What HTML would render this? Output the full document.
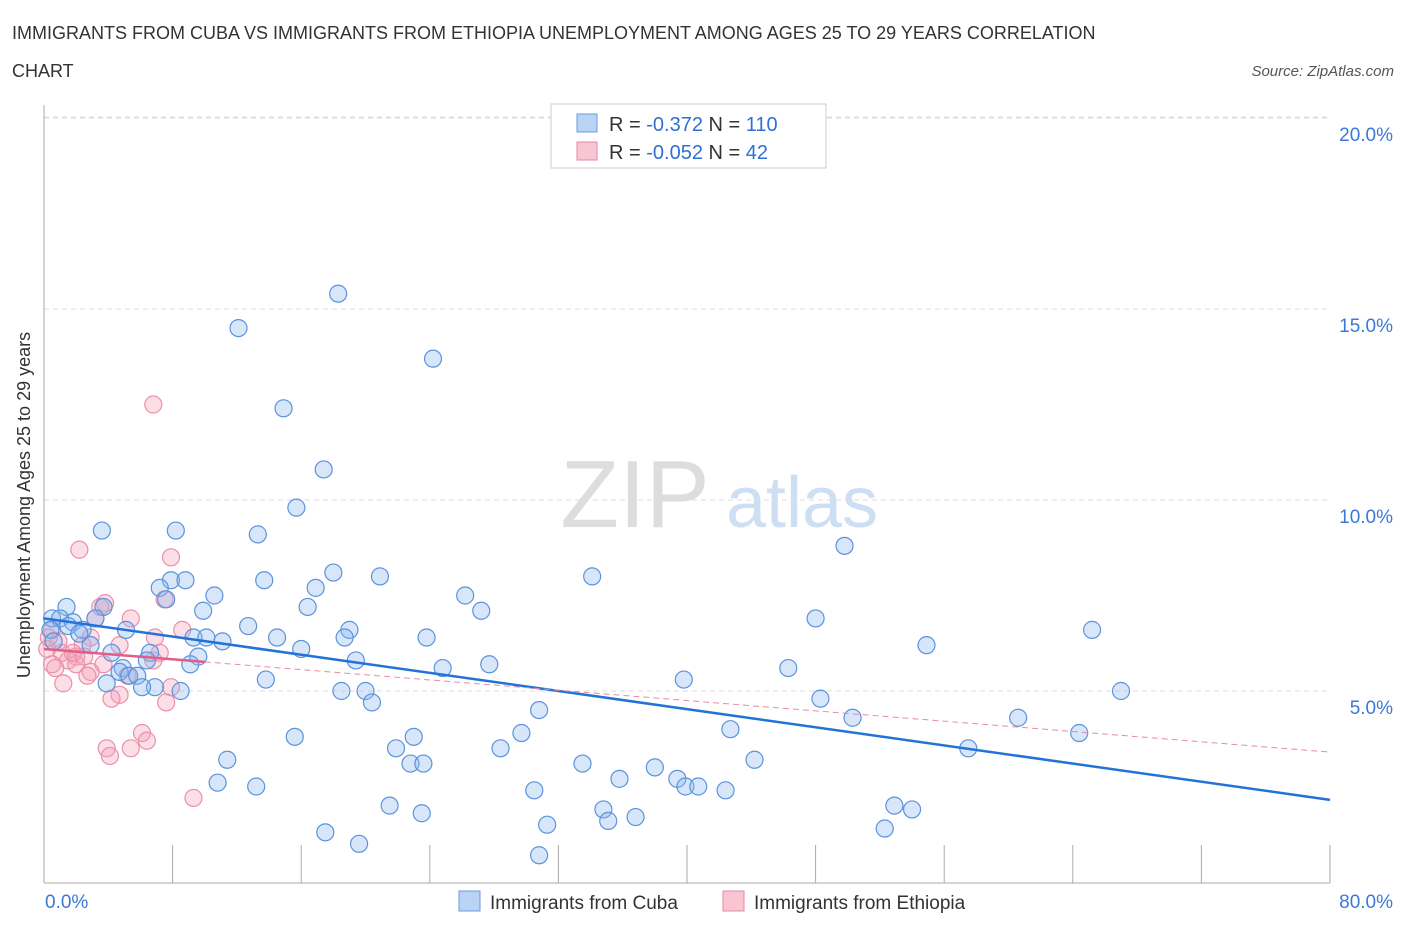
<!DOCTYPE html>
<html><head><meta charset="utf-8"><style>
body{margin:0;background:#fff;font-family:"Liberation Sans",sans-serif}
svg text{font-family:"Liberation Sans",sans-serif}
</style></head><body>
<svg id="chart" width="1406" height="930" xmlns="http://www.w3.org/2000/svg">
<text x="12" y="39" font-size="18" fill="#333">IMMIGRANTS FROM CUBA VS IMMIGRANTS FROM ETHIOPIA UNEMPLOYMENT AMONG AGES 25 TO 29 YEARS CORRELATION</text>
<text x="12" y="77" font-size="18" fill="#333">CHART</text>
<text x="1394" y="76" font-size="15" fill="#555" text-anchor="end" font-style="italic">Source: ZipAtlas.com</text>
<g><text x="635" y="527" font-size="96" fill="#ddd" text-anchor="middle" font-family="Liberation Serif">ZIP</text><text x="802" y="527" font-size="72" fill="#cfdff3" text-anchor="middle">atlas</text></g>
<g id="grid"></g><g id="axes"></g><g id="pts"></g><g id="lines"></g>
<g>
<rect x="551" y="104" width="275" height="64" fill="#fff" stroke="#ccc"/>
<rect x="577" y="114" width="20" height="18" fill="#b9d3f5" stroke="#6b9de0"/>
<text x="609" y="131" font-size="20" fill="#333">R = <tspan fill="#2f6fd6">-0.372</tspan>   N = <tspan fill="#2f6fd6">110</tspan></text>
<rect x="577" y="142" width="20" height="18" fill="#f9c5d3" stroke="#e48aa5"/>
<text x="609" y="159" font-size="20" fill="#333">R = <tspan fill="#2f6fd6">-0.052</tspan>   N = <tspan fill="#2f6fd6"> 42</tspan></text>
</g>
<g>
<rect x="459" y="891" width="21" height="20" fill="#b9d3f5" stroke="#6b9de0"/>
<text x="490" y="909" font-size="19" fill="#333">Immigrants from Cuba</text>
<rect x="723" y="891" width="21" height="20" fill="#f9c5d3" stroke="#e48aa5"/>
<text x="754" y="909" font-size="19" fill="#333">Immigrants from Ethiopia</text>
</g>
<text x="20" y="495" font-size="18" fill="#333" text-anchor="middle" transform="rotate(-90 30 495)">Unemployment Among Ages 25 to 29 years</text>
</svg>
<script>
const cubaX=[18.3,12.1,24.2,14.9,17.4,15.7,3.6,8.2,13.3,49.8,34.1,18.0,13.7,20.9,7.9,8.8,7.2,16.9,10.6,26.2,7.6,16.4,27.2,9.9,1.4,3.7,0.5,1.0,1.8,3.2,48.0,65.2,5.1,12.7,2.4,0.4,19.0,23.8,9.3,10.1,14.5,18.7,11.1,54.9,2.9,16.0,4.2,6.6,6.4,9.6,9.1,19.4,27.7,24.8,4.9,46.3,4.7,5.3,5.8,39.8,13.8,3.9,6.9,6.1,8.5,18.5,20.0,67.0,48.3,20.4,30.8,50.3,60.6,42.7,15.6,23.0,29.7,64.4,28.4,21.9,57.5,11.4,22.8,23.6,33.5,44.2,38.0,35.8,39.4,10.8,13.2,39.9,40.7,42.4,30.5,21.5,34.8,52.9,54.0,23.5,36.8,35.1,31.3,52.3,17.5,19.6,30.8,0.6,1.5,2.2];
const cubaY=[15.4,14.5,13.7,12.4,10.8,9.8,9.2,9.2,9.1,8.8,8.0,8.1,7.9,8.0,7.9,7.9,7.7,7.7,7.5,7.5,7.4,7.2,7.1,7.1,7.2,7.2,6.9,6.9,6.8,6.9,6.9,6.6,6.6,6.7,6.6,6.6,6.6,6.4,6.4,6.4,6.4,6.4,6.3,6.2,6.2,6.1,6.0,6.0,5.8,5.9,5.7,5.8,5.7,5.6,5.6,5.6,5.5,5.4,5.4,5.3,5.3,5.2,5.1,5.1,5.0,5.0,5.0,5.0,4.8,4.7,4.5,4.3,4.3,4.0,3.8,3.8,3.9,3.9,3.5,3.5,3.5,3.2,3.1,3.1,3.1,3.2,3.0,2.7,2.7,2.6,2.5,2.5,2.5,2.4,2.4,2.0,1.9,2.0,1.9,1.8,1.7,1.6,1.5,1.4,1.3,1.0,0.7,6.3,6.7,6.5];
const ethX=[6.8,2.2,7.9,7.5,3.8,3.5,5.4,3.2,8.6,6.9,2.9,0.9,2.4,4.7,0.2,1.1,2.0,7.2,1.5,6.8,3.7,0.5,2.0,0.7,2.9,2.7,1.2,5.2,7.9,4.7,4.2,7.6,6.1,6.4,5.4,3.9,4.1,9.3,0.5,0.3,1.8,2.5];
const ethY=[12.5,8.7,8.5,7.4,7.3,7.2,6.9,6.9,6.6,6.4,6.4,6.3,6.2,6.2,6.1,6.0,5.9,6.0,5.8,5.8,5.7,5.7,5.7,5.6,5.5,5.4,5.2,5.4,5.1,4.9,4.8,4.7,3.9,3.7,3.5,3.5,3.3,2.2,6.6,6.4,6.0,5.9];
const yTicks=[5,10,15,20];
const yTickLabels=["5.0%","10.0%","15.0%","20.0%"];
const xTicks=[0,8,16,24,32,40,48,56,64,72,80];
const xEndLabels=["0.0%","80.0%"];
const cubaTrend=[6.9,2.15];
const ethTrend=[6.1,3.4];
const ethSolidEnd=10;
const NS="http://www.w3.org/2000/svg";
const X=v=>44+v*(1330-44)/80, Y=v=>882-v*(882-118)/20;
function mk(tag,attrs,parent){const e=document.createElementNS(NS,tag);for(const k in attrs)e.setAttribute(k,attrs[k]);document.getElementById(parent).appendChild(e);return e;}
yTicks.forEach((t,i)=>{
 const l=mk('line',{x1:44,x2:1330,y1:Y(t),y2:Y(t),stroke:'#ddd','stroke-dasharray':'5,4'},'grid');
 
 
 const tx=mk('text',{x:1393,y:Y(t)+23,'font-size':19,fill:'#3b78d8','text-anchor':'end'},'grid');tx.textContent=yTickLabels[i];
 
 
});
const ta=mk('line',{x1:44,x2:1330,y1:Y(20)-1,y2:Y(20)-1,stroke:'#ddd','stroke-dasharray':'5,4'},'grid');


const ya=mk('line',{x1:44,x2:44,y1:105,y2:883,stroke:'#aaa'},'axes');


const xa=mk('line',{x1:44,x2:1330,y1:883,y2:883,stroke:'#aaa'},'axes');


xTicks.forEach(t=>{const l=mk('line',{x1:X(t),x2:X(t),y1:845,y2:883,stroke:'#aaa'},'axes');
 
 });
const xl0=mk('text',{x:45,y:908,'font-size':19,fill:'#3b78d8'},'axes');xl0.textContent=xEndLabels[0];


const xl1=mk('text',{x:1393,y:908,'font-size':19,fill:'#3b78d8','text-anchor':'end'},'axes');xl1.textContent=xEndLabels[1];


ethX.forEach((x,i)=>{const c=mk('circle',{cx:X(x),cy:Y(ethY[i]),r:8.5,fill:'rgba(244,160,184,0.35)',stroke:'#ec8fab','stroke-width':1.2},'pts');
 
 });
cubaX.forEach((x,i)=>{const c=mk('circle',{cx:X(x),cy:Y(cubaY[i]),r:8.5,fill:'rgba(140,184,238,0.35)',stroke:'#5b93dd','stroke-width':1.2},'pts');
 
 });
const lc=mk('line',{x1:X(0),y1:Y(cubaTrend[0]),x2:X(80),y2:Y(cubaTrend[1]),stroke:'#2272d8','stroke-width':2.5},'lines');


const ey=x=>ethTrend[0]+(ethTrend[1]-ethTrend[0])*x/80;
const le1=mk('line',{x1:X(0),y1:Y(ey(0)),x2:X(ethSolidEnd),y2:Y(ey(ethSolidEnd)),stroke:'#e35d87','stroke-width':2.5},'lines');


const le2=mk('line',{x1:X(ethSolidEnd),y1:Y(ey(ethSolidEnd)),x2:X(80),y2:Y(ey(80)),stroke:'#e88aa6','stroke-width':1,'stroke-dasharray':'6,4'},'lines');


</script>
</body></html>
